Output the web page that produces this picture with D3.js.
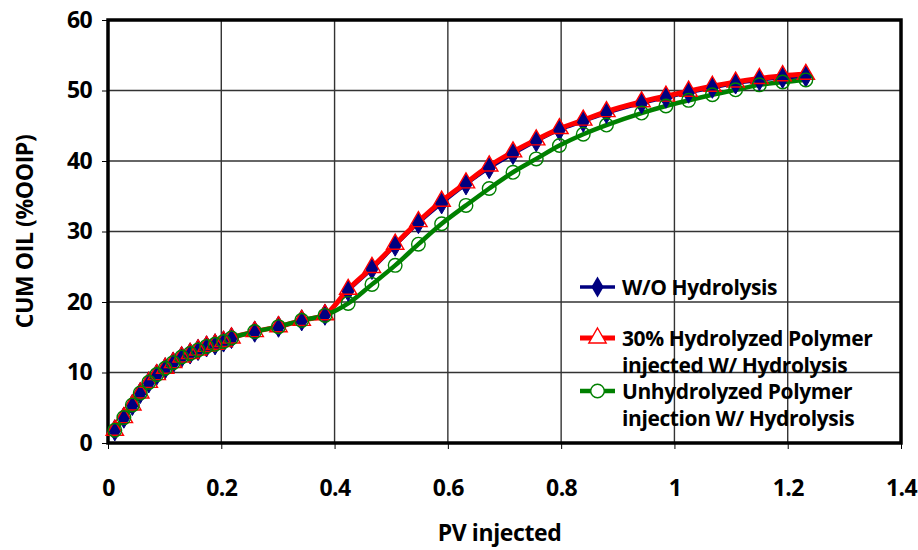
<!DOCTYPE html>
<meta charset="utf-8">
<style>
body { margin: 0; background: #fff; font-family: "Open Sans", sans-serif; }
.grid line { stroke: #333; stroke-width: 1.4; }
.axis text { font-family: "Open Sans", sans-serif; font-size: 23px; font-weight: 700; fill: #000; letter-spacing: -0.6px; }
.axis path { display: none; }
.axis line { stroke: #000; stroke-width: 1; }
.lab { font-size: 23px; font-weight: 700; letter-spacing: -0.4px; }
.leg { font-size: 21px; font-weight: 700; letter-spacing: -0.4px; }
</style>
<body>
<script src="https://cdn.jsdelivr.net/npm/d3@7"></script>
<script>

// PV injected
var pv = [0.012, 0.028, 0.043, 0.057, 0.072, 0.086, 0.101, 0.115, 0.130, 0.145, 0.159, 0.174, 0.189, 0.204, 0.218,
  0.259, 0.301, 0.342, 0.383, 0.424, 0.466, 0.507, 0.548, 0.589, 0.632, 0.673, 0.715, 0.756, 0.797, 0.839, 0.880,
  0.942, 0.985, 1.025, 1.067, 1.108, 1.150, 1.191, 1.232];

// cum oil %OOIP
var woHydro = [1.8, 3.6, 5.4, 7.1, 8.6, 9.7, 10.6, 11.4, 12.2, 12.7, 13.2, 13.7, 14.0, 14.4, 14.9,
  15.8, 16.5, 17.4, 18.2, 21.6, 24.7, 28.0, 31.2, 34.0, 36.7, 39.0, 41.0, 42.8, 44.4, 45.6, 46.8,
  48.2, 49.0, 49.7, 50.4, 51.0, 51.5, 51.8, 52.0];
var hydro30 = [1.8, 3.6, 5.4, 7.1, 8.6, 9.7, 10.6, 11.4, 12.2, 12.7, 13.2, 13.7, 14.0, 14.4, 14.9,
  15.8, 16.5, 17.4, 18.2, 21.8, 24.9, 28.2, 31.4, 34.3, 36.9, 39.3, 41.3, 43.0, 44.6, 45.8, 47.0,
  48.4, 49.2, 49.9, 50.6, 51.2, 51.7, 52.1, 52.3];
var unhydro = [1.8, 3.6, 5.4, 7.1, 8.6, 9.7, 10.6, 11.4, 12.2, 12.7, 13.2, 13.7, 14.0, 14.4, 14.9,
  15.8, 16.5, 17.4, 18.1, 19.8, 22.5, 25.2, 28.2, 31.1, 33.7, 36.1, 38.4, 40.3, 42.2, 43.8, 45.1,
  46.8, 47.8, 48.6, 49.4, 50.1, 50.8, 51.2, 51.5];

var xTicks = [0, 0.2, 0.4, 0.6, 0.8, 1, 1.2, 1.4];
var yTicks = [0, 10, 20, 30, 40, 50, 60];
var legendNames = [["W/O Hydrolysis"], ["30% Hydrolyzed Polymer", "injected W/ Hydrolysis"], ["Unhydrolyzed Polymer", "injection W/ Hydrolysis"]];

var margin = {top: 20, right: 17, bottom: 107, left: 108};
var width = 918 - margin.left - margin.right;
var height = 550 - margin.top - margin.bottom;

var svg = d3.select("body").append("svg")
  .attr("width", 918).attr("height", 550)
  .append("g")
  .attr("transform", "translate(" + margin.left + "," + margin.top + ")");

var x = d3.scaleLinear().domain([0, 1.4]).range([0, width]);
var y = d3.scaleLinear().domain([0, 60]).range([height, 0]);

// grid
svg.append("g").attr("class", "grid")
  .selectAll("line.v").data(xTicks).enter().append("line")
  .attr("x1", function(d) { return x(d); }).attr("x2", function(d) { return x(d); })
  .attr("y1", 0).attr("y2", height);
svg.append("g").attr("class", "grid")
  .selectAll("line.h").data(yTicks).enter().append("line")
  .attr("y1", function(d) { return y(d); }).attr("y2", function(d) { return y(d); })
  .attr("x1", 0).attr("x2", width);

// axes
svg.append("g").attr("class", "axis")
  .attr("transform", "translate(0," + height + ")")
  .call(d3.axisBottom(x).tickValues(xTicks).tickSize(6).tickPadding(31).tickFormat(d3.format("")));
svg.append("g").attr("class", "axis")
  .call(d3.axisLeft(y).tickValues(yTicks).tickSize(6).tickPadding(10));

// border
svg.append("rect").attr("width", width).attr("height", height)
  .attr("fill", "none").attr("stroke", "#000").attr("stroke-width", 3.5);

function pts(vals) {
  return vals.map(function(v, i) { return [pv[i], v]; });
}

var line = d3.line()
  .x(function(d) { return x(d[0]); })
  .y(function(d) { return y(d[1]); })
  .curve(d3.curveCatmullRom);

var series = [
  {vals: woHydro, color: "#000080", w: 3.5},
  {vals: hydro30, color: "#ff0000", w: 5},
  {vals: unhydro, color: "#008000", w: 4.5}
];

series.forEach(function(s) {
  svg.append("path").datum(pts(s.vals))
    .attr("fill", "none").attr("stroke", s.color).attr("stroke-width", s.w)
    .attr("d", line);
});

var diamond = d3.symbol().type(d3.symbolDiamond).size(130);
var tri = d3.symbol().type(d3.symbolTriangle).size(130);

svg.append("g").selectAll("path").data(pts(woHydro)).enter().append("path")
  .attr("d", diamond)
  .attr("transform", function(d) { return "translate(" + x(d[0]) + "," + y(d[1]) + ")"; })
  .attr("fill", "#000080").attr("stroke", "#000080").attr("stroke-width", 1);

svg.append("g").selectAll("path").data(pts(hydro30)).enter().append("path")
  .attr("d", tri)
  .attr("transform", function(d) { return "translate(" + x(d[0]) + "," + y(d[1]) + ")"; })
  .attr("fill", "none").attr("stroke", "#ff0000").attr("stroke-width", 1.4);

svg.append("g").selectAll("circle").data(pts(unhydro)).enter().append("circle")
  .attr("cx", function(d) { return x(d[0]); })
  .attr("cy", function(d) { return y(d[1]); })
  .attr("r", 6.8)
  .attr("fill", "none").attr("stroke", "#008000").attr("stroke-width", 1.4);

// axis titles
svg.append("text").attr("class", "lab")
  .attr("text-anchor", "middle")
  .attr("transform", "translate(" + (-75) + "," + (height / 2) + ") rotate(-90)")
  .text("CUM OIL (%OOIP)");
svg.append("text").attr("class", "lab")
  .attr("text-anchor", "middle")
  .attr("x", width / 2 - 5).attr("y", height + 98)
  .text("PV injected");

// legend
var legY = [267, 318, 371];
var leg = svg.append("g").attr("transform", "translate(472,0)");
series.forEach(function(s, i) {
  var g = leg.append("g").attr("transform", "translate(0," + legY[i] + ")");
  g.append("line").attr("x1", 0).attr("x2", 35).attr("y1", 0).attr("y2", 0)
    .attr("stroke", s.color).attr("stroke-width", s.w);
  if (i === 0) g.append("path").attr("d", diamond).attr("transform", "translate(17.5,0)").attr("fill", "#000080");
  if (i === 1) g.append("path").attr("d", tri).attr("transform", "translate(17.5,0)").attr("fill", "#fff").attr("stroke", "#ff0000").attr("stroke-width", 1.4);
  if (i === 2) g.append("circle").attr("cx", 17.5).attr("r", 6.8).attr("fill", "#fff").attr("stroke", "#008000").attr("stroke-width", 1.4);
  legendNames[i].forEach(function(t, j) {
    g.append("text").attr("class", "leg")
      .attr("x", 42).attr("y", 8 + j * 27)
      .text(t);
  });
});

</script>
</body>
